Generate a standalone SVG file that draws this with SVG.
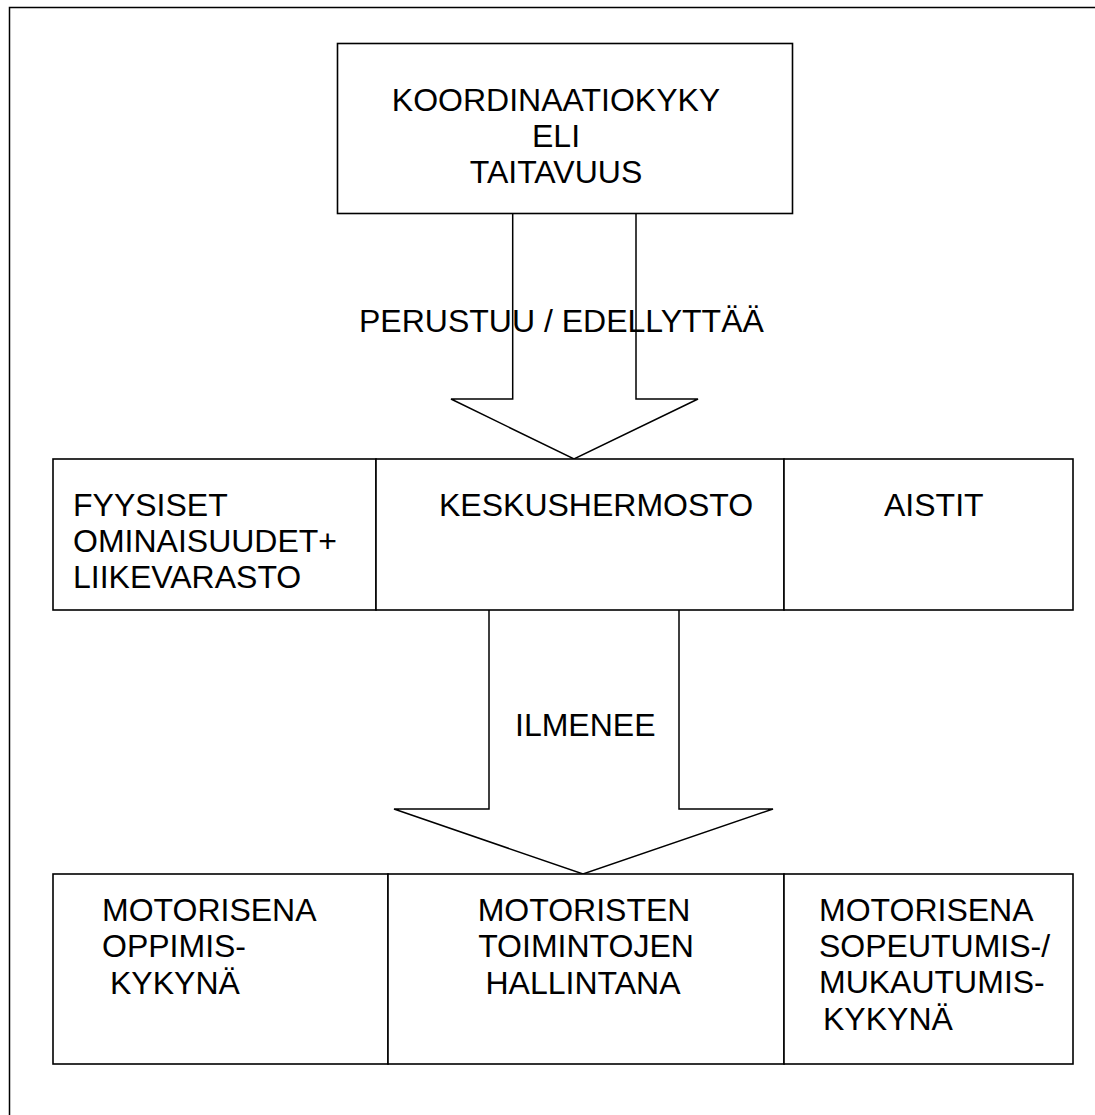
<svg xmlns="http://www.w3.org/2000/svg" width="1095" height="1115" viewBox="0 0 1095 1115">
  <style>
    .box { fill: #ffffff; stroke: #000000; stroke-width: 1.6; }
    .ln { fill: none; stroke: #000000; stroke-width: 1.5; }
    .arrow { fill: none; stroke: #000000; stroke-width: 1.5; stroke-linejoin: miter; }
    text { font-family: "Liberation Sans", Arial, sans-serif; font-size: 32px; fill: #000000; }
    .mid { text-anchor: middle; }
  </style>

  <rect width="1095" height="1115" fill="#ffffff"/>

  <!-- page frame -->
  <path class="ln" d="M9.5,1115 V7.5 H1095"/>

  <!-- connectors: block arrows -->
  <g id="connectors">
    <path class="arrow" d="M512.7,214 V399 H451 L574,459 L698,399 H636 V214"/>
    <path class="arrow" d="M489,610 V809 H394 L583,874 L773,809 H679 V610"/>
  </g>

  <!-- top node -->
  <g id="node-koordinaatiokyky">
    <rect class="box" x="337.5" y="43.5" width="455" height="170"/>
    <text class="mid" x="556" y="111">KOORDINAATIOKYKY</text>
    <text class="mid" x="556" y="147">ELI</text>
    <text class="mid" x="556" y="183">TAITAVUUS</text>
  </g>

  <!-- middle row -->
  <g id="node-fyysiset">
    <rect class="box" x="53" y="459" width="323" height="151"/>
    <text x="73" y="516">FYYSISET</text>
    <text x="73" y="552">OMINAISUUDET+</text>
    <text x="73" y="588">LIIKEVARASTO</text>
  </g>
  <g id="node-keskushermosto">
    <rect class="box" x="376" y="459" width="408" height="151"/>
    <text x="439" y="516">KESKUSHERMOSTO</text>
  </g>
  <g id="node-aistit">
    <rect class="box" x="784" y="459" width="289" height="151"/>
    <text x="884" y="516">AISTIT</text>
  </g>

  <!-- bottom row -->
  <g id="node-oppimiskyky">
    <rect class="box" x="53" y="874" width="335" height="190"/>
    <text x="102" y="921">MOTORISENA</text>
    <text x="102" y="957">OPPIMIS-</text>
    <text x="110" y="994">KYKYNÄ</text>
  </g>
  <g id="node-hallinta">
    <rect class="box" x="388" y="874" width="396" height="190"/>
    <text class="mid" x="584" y="921">MOTORISTEN</text>
    <text class="mid" x="586" y="957">TOIMINTOJEN</text>
    <text class="mid" x="583" y="994">HALLINTANA</text>
  </g>
  <g id="node-sopeutumiskyky">
    <rect class="box" x="784" y="874" width="289" height="190"/>
    <text x="819" y="921">MOTORISENA</text>
    <text x="819" y="957">SOPEUTUMIS-/</text>
    <text x="819" y="993">MUKAUTUMIS-</text>
    <text x="823" y="1030">KYKYNÄ</text>
  </g>

  <!-- connector labels -->
  <text x="359" y="332">PERUSTUU / EDELLYTTÄÄ</text>
  <text x="515" y="736">ILMENEE</text>
</svg>
